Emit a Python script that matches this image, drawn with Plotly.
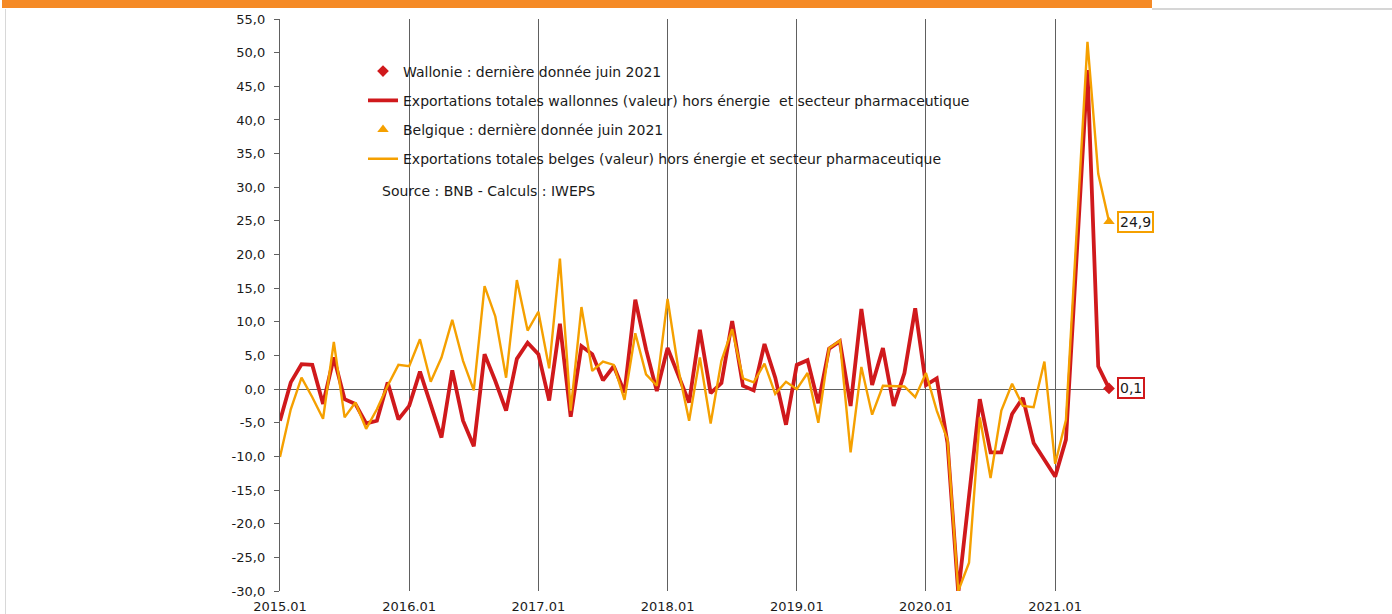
import plotly.graph_objects as go

# ---------------- data ----------------
years = [2015, 2016, 2017, 2018, 2019, 2020, 2021]
months = [f"{y}.{m:02d}" for y in years for m in range(1, 13)][:78]  # 2015.01 .. 2021.06

wallonie = [
    -4.7, 1.0, 3.7, 3.6, -2.2, 4.7, -1.5, -2.2, -5.1, -4.7, 1.0, -4.5,
    -2.5, 2.6, -2.3, -7.2, 2.8, -4.7, -8.5, 5.2, 1.2, -3.2, 4.5, 6.9,
    5.2, -1.7, 9.7, -4.1, 6.4, 5.2, 1.3, 3.4, -0.5, 13.3, 5.9, -0.3,
    6.1, 2.0, -2.0, 8.8, -0.6, 0.9, 10.1, 0.5, -0.2, 6.7, 1.7, -5.3,
    3.6, 4.3, -2.1, 6.0, 7.1, -2.5, 11.9, 0.6, 6.1, -2.5, 2.4, 12.0,
    0.6, 1.6, -8.0, -30.3, -16.0, -1.5, -9.4, -9.4, -3.7, -1.3, -8.0, -10.5,
    -13.0, -7.5, 21.0, 47.4, 3.4, 0.1,
]
belgique = [
    -10.1, -3.0, 1.7, -1.2, -4.4, 7.0, -4.2, -2.0, -5.9, -3.0, 0.5, 3.6,
    3.4, 7.4, 1.1, 4.7, 10.3, 4.2, -0.2, 15.3, 10.8, 1.7, 16.2, 8.7,
    11.5, 3.1, 19.4, -3.2, 12.2, 2.7, 4.1, 3.6, -1.6, 8.3, 2.2, 0.5,
    13.4, 3.0, -4.7, 4.7, -5.1, 4.2, 8.9, 1.6, 1.0, 3.8, -0.7, 1.1,
    0.0, 2.4, -5.0, 6.1, 7.2, -9.4, 3.3, -3.8, 0.5, 0.4, 0.4, -1.2,
    2.4, -3.2, -7.5, -30.0, -25.8, -4.2, -13.2, -3.2, 0.8, -2.5, -2.7, 4.1,
    -11.1, -4.6, 23.6, 51.6, 32.0, 24.9,
]
x_ticks = [f"{y}.01" for y in years]
y_ticks = list(range(-30, 60, 5))
y_tick_labels = [f"{v:.1f}".replace(".", ",") for v in y_ticks]

names = [
    "Wallonie : dernière donnée juin 2021",
    "Exportations totales wallonnes (valeur) hors énergie \u00a0et secteur pharmaceutique",
    "Belgique : dernière donnée juin 2021",
    "Exportations totales belges (valeur) hors énergie et secteur pharmaceutique",
]
source_text = "Source : BNB - Calculs : IWEPS"

RED = "#D0191C"
ORANGE = "#F5A000"
GRID = "#606060"
FONT = "DejaVu Sans"
TXT = "#1a1a1a"

# ---------------- figure ----------------
W, H = 1392, 614
L, R, T, B = 280, 283, 19, 23
pw, ph = W - L - R, H - T - B


def px_x(px):
    return (px - L) / pw


def px_y(py):
    return (H - B - py) / ph


fig = go.Figure()

fig.add_trace(go.Scatter(
    x=months, y=wallonie, mode="lines", name=names[1],
    line=dict(color=RED, width=3.8), legendgroup="b", legendrank=2,
))
fig.add_trace(go.Scatter(
    x=months, y=belgique, mode="lines", name=names[3],
    line=dict(color=ORANGE, width=2.4), legendgroup="d", legendrank=4,
))
fig.add_trace(go.Scatter(
    x=[months[-1]], y=[wallonie[-1]], mode="markers", name=names[0],
    marker=dict(symbol="diamond", color=RED, size=9), legendgroup="a", legendrank=1,
    cliponaxis=False,
))
fig.add_trace(go.Scatter(
    x=[months[-1]], y=[belgique[-1]], mode="markers", name=names[2],
    marker=dict(symbol="triangle-up", color=ORANGE, size=10), legendgroup="c", legendrank=3,
    cliponaxis=False,
))

# last-value labels
for val, col in [(belgique[-1], ORANGE), (wallonie[-1], RED)]:
    fig.add_annotation(
        x=len(months) - 1, y=val, text=f"{val:.1f}".replace(".", ","),
        showarrow=False, xanchor="left", xshift=8,
        font=dict(family=FONT, size=14, color=TXT),
        bordercolor=col, borderwidth=2, borderpad=1, bgcolor="white",
    )

# source note
fig.add_annotation(
    xref="paper", yref="paper", x=px_x(380), y=px_y(191),
    text=source_text, showarrow=False, xanchor="left", yanchor="middle",
    font=dict(family=FONT, size=14, color=TXT),
)

# decorative frame: orange header bar, thin grey lines
fig.add_shape(type="rect", xref="paper", yref="paper",
              x0=px_x(2), x1=px_x(1152), y0=px_y(8), y1=px_y(0),
              fillcolor="#F58A26", line=dict(width=0), layer="above")
fig.add_shape(type="line", xref="paper", yref="paper",
              x0=px_x(1152), x1=px_x(1392), y0=px_y(9), y1=px_y(9),
              line=dict(color="#C8C8C8", width=1.5))
fig.add_shape(type="line", xref="paper", yref="paper",
              x0=px_x(5.5), x1=px_x(5.5), y0=px_y(9), y1=px_y(614),
              line=dict(color="#D8D8D8", width=1))

fig.update_layout(
    width=W, height=H,
    margin=dict(l=L, r=R, t=T, b=B, pad=0, autoexpand=False),
    paper_bgcolor="white", plot_bgcolor="white",
    font=dict(family=FONT, size=13, color=TXT),
    showlegend=True,
    legend=dict(
        x=px_x(363), y=px_y(55.5), xanchor="left", yanchor="top",
        bgcolor="rgba(0,0,0,0)", borderwidth=0,
        traceorder="grouped", tracegroupgap=8,
        font=dict(family=FONT, size=14, color=TXT),
        itemwidth=30,
    ),
    xaxis=dict(
        type="category", range=[0, len(months) - 1],
        tickmode="array", tickvals=x_ticks, ticktext=x_ticks,
        showgrid=True, gridcolor=GRID, gridwidth=1.4,
        showline=False, zeroline=False, ticks="",
        ticklabelstandoff=6, automargin=False,
        tickfont=dict(family=FONT, size=13, color=TXT),
    ),
    yaxis=dict(
        range=[-30, 55], tickmode="array", tickvals=y_ticks, ticktext=y_tick_labels,
        showgrid=False, zeroline=True, zerolinecolor=GRID, zerolinewidth=1.4,
        showline=True, linecolor=GRID, linewidth=1.4,
        ticks="outside", ticklen=5, tickcolor=GRID, tickwidth=1.4,
        ticklabelstandoff=6, automargin=False,
        tickfont=dict(family=FONT, size=13, color=TXT),
    ),
)

fig.write_html("out.html", config={"displayModeBar": False},
               post_script="document.body.style.margin='0px';")
